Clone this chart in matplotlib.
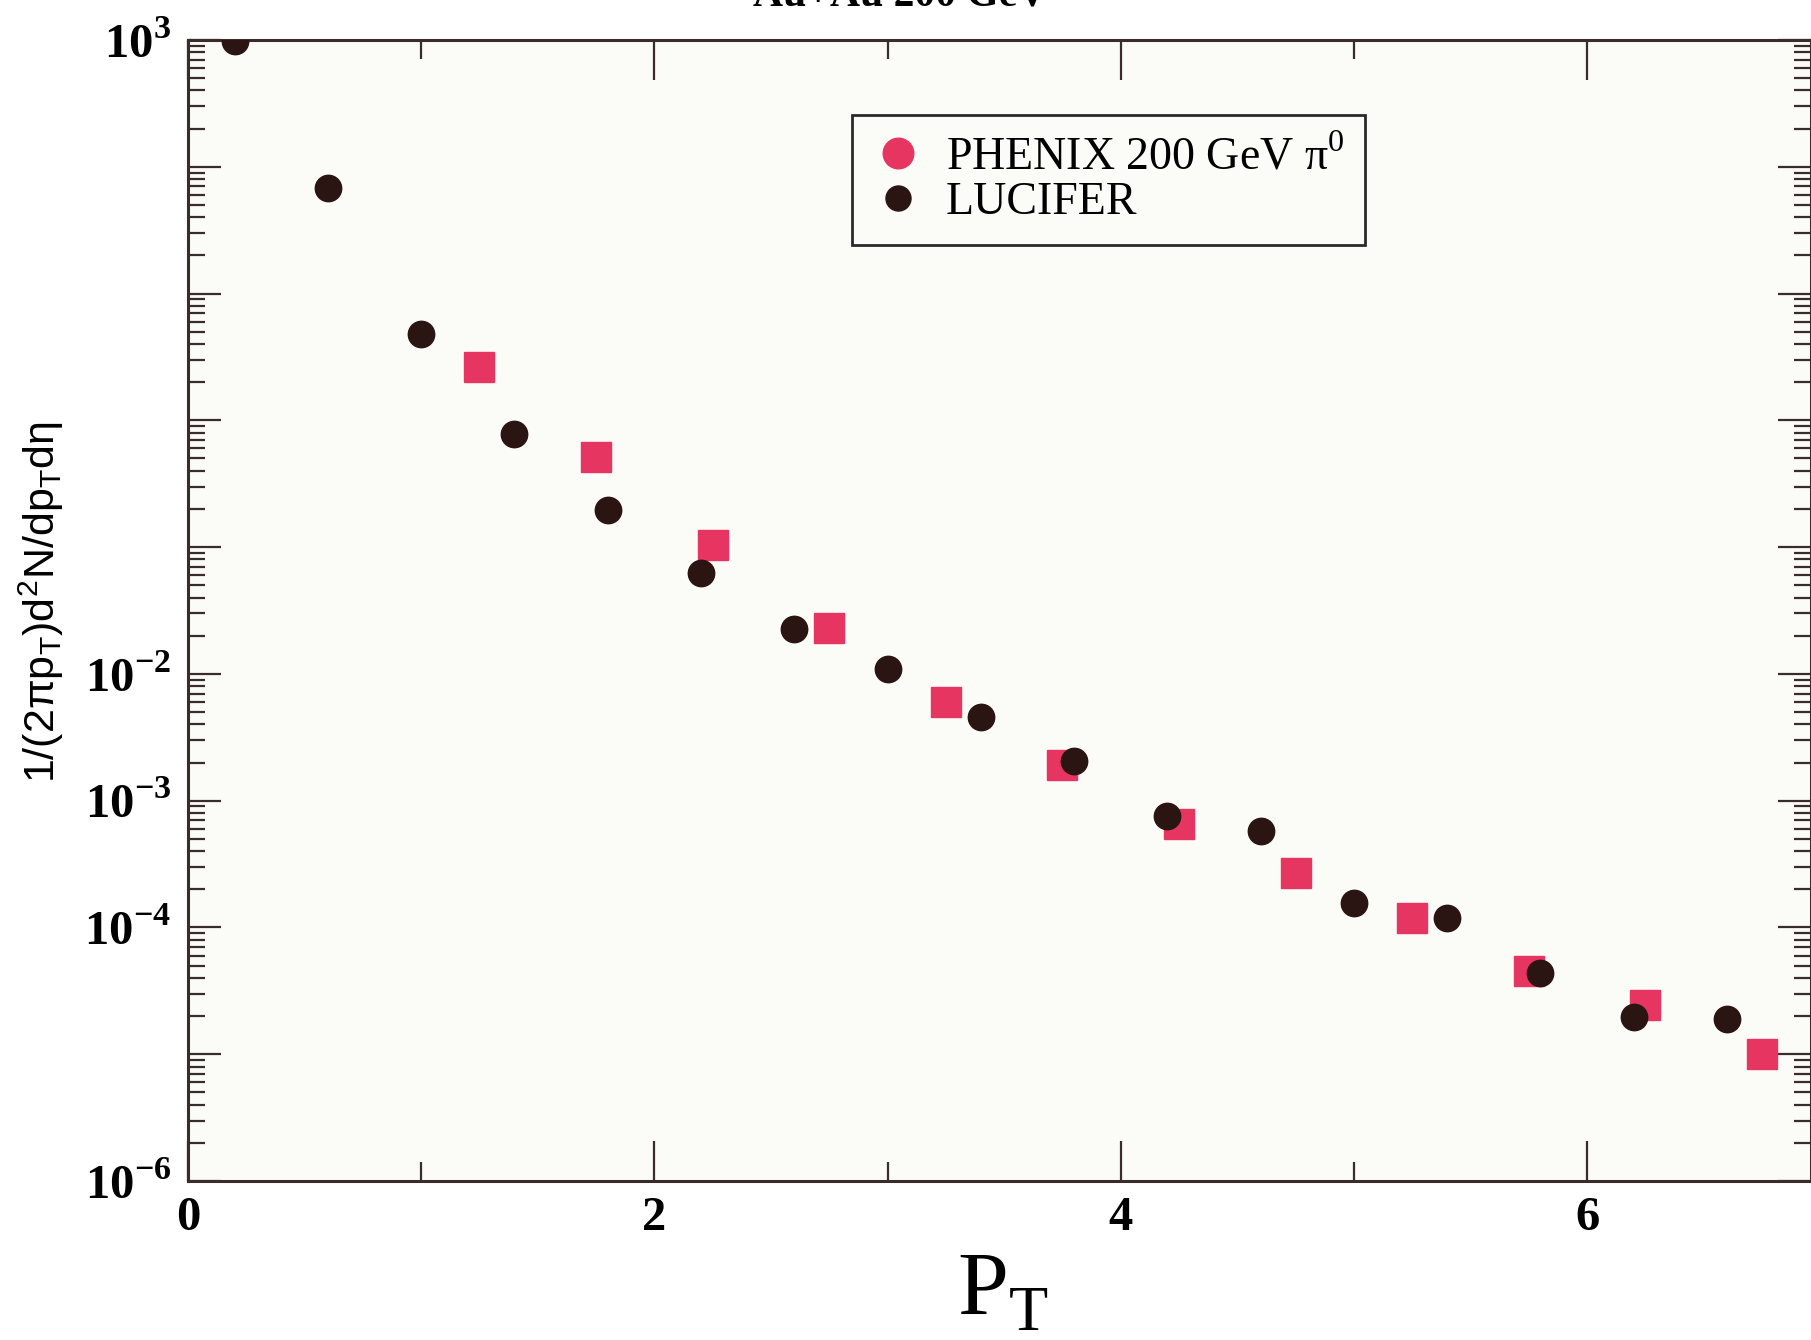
import matplotlib
matplotlib.use("Agg")
import matplotlib.pyplot as plt
from matplotlib.lines import Line2D
from matplotlib.ticker import LogLocator, NullFormatter

# LUCIFER (black circles)
luc_pt = [0.2, 0.6, 1.0, 1.4, 1.8, 2.2, 2.6, 3.0, 3.4, 3.8, 4.2, 4.6, 5.0, 5.4, 5.8, 6.2, 6.6]
luc_y = [980, 68, 4.8, 0.78, 0.195, 0.062, 0.0224, 0.011, 0.00455, 0.00205,
         7.6e-4, 5.8e-4, 1.55e-4, 1.18e-4, 4.4e-5, 1.98e-5, 1.9e-5]

# PHENIX 200 GeV pi0 (red)
phx_pt = [1.25, 1.75, 2.25, 2.75, 3.25, 3.75, 4.25, 4.75, 5.25, 5.75, 6.25, 6.75]
phx_y = [2.63, 0.51, 0.104, 0.0229, 0.00598, 0.00192, 6.5e-4, 2.67e-4,
         1.18e-4, 4.5e-5, 2.44e-5, 1.01e-5]

decades = list(range(-6, 4))
labelled = {3: "10$^\\mathregular{3}$", -2: "10$^\\mathregular{-2}$", -3: "10$^\\mathregular{-3}$",
            -4: "10$^\\mathregular{-4}$", -6: "10$^\\mathregular{-6}$"}

red = "#e63560"
dark = "#2b1512"
axc = "#3a2c2a"

fig = plt.figure(figsize=(18.11, 13.40), dpi=100)
ax = fig.add_axes([188 / 1811, 1 - 1181 / 1340, 1 - 188 / 1811, (1181 - 40) / 1340])
ax.set_facecolor("#fbfbf7")

ax.plot(phx_pt, phx_y, ls="none", marker="s", ms=22, color=red, mec=red, zorder=3)
ax.plot(luc_pt, luc_y, ls="none", marker="o", ms=19, color=dark, mec=dark, zorder=4)

ax.set_yscale("log")
ax.set_ylim(1e-6, 1e3)
ax.set_xlim(0, 6.96)

ax.set_yticks([10.0 ** k for k in decades])
ax.set_yticklabels([labelled.get(k, "") for k in decades])
ax.yaxis.set_minor_locator(LogLocator(base=10, subs=range(2, 10), numticks=20))
ax.yaxis.set_minor_formatter(NullFormatter())

ax.set_xticks([0, 2, 4, 6])
ax.set_xticklabels(["0", "2", "4", "6"])
ax.set_xticks([1, 3, 5], minor=True)

for lab in ax.get_yticklabels() + ax.get_xticklabels():
    lab.set_family("Liberation Serif")
    lab.set_fontweight("bold")
    lab.set_fontsize(35)

ax.tick_params(axis="x", which="major", direction="in", length=29, width=1.6,
               top=True, bottom=True, color=axc, pad=11)
ax.tick_params(axis="x", which="minor", direction="in", length=14, width=1.6,
               top=True, bottom=True, color=axc)
ax.tick_params(axis="y", which="major", direction="in", length=24, width=1.6,
               left=True, right=True, color=axc, pad=12)
ax.tick_params(axis="y", which="minor", direction="in", length=12, width=1.6,
               left=True, right=True, color=axc)
for sp in ax.spines.values():
    sp.set_linewidth(2.2)
    sp.set_color(axc)

ax.set_xlabel("P$_\\mathregular{T}$", family="Liberation Serif", fontsize=66)
ax.xaxis.set_label_coords(0.502, -0.062, transform=ax.transAxes)
ax.xaxis.label.set_va("top")
ax.set_ylabel("1/(2πp$_\\mathregular{T}$)d$^\\mathregular{2}$N/dp$_\\mathregular{T}$dη",
              family="Liberation Sans", fontsize=31)
ax.yaxis.set_label_coords(-0.075, 0.507)

handles = [Line2D([], [], ls="none", marker="o", ms=22, color=red),
           Line2D([], [], ls="none", marker="o", ms=18, color=dark)]
leg = ax.legend(handles, ["PHENIX 200 GeV π$^\\mathregular{0}$", "LUCIFER"],
                loc="upper left", bbox_to_anchor=(0.409, 0.934), borderaxespad=0,
                prop={"family": "Liberation Serif", "size": 33}, fancybox=False,
                edgecolor="#2a2a2a", framealpha=1, facecolor="#fbfbf7",
                handletextpad=0.5, labelspacing=0.05, borderpad=0.45, handlelength=1.1)
leg.get_frame().set_linewidth(2)

fig.text(900 / 1811, 1 - 5 / 1340, "Au+Au 200 GeV", family="Liberation Serif",
         fontweight="bold", fontsize=30, ha="center", va="baseline")

fig.savefig("out.png", dpi=100, facecolor="white")
